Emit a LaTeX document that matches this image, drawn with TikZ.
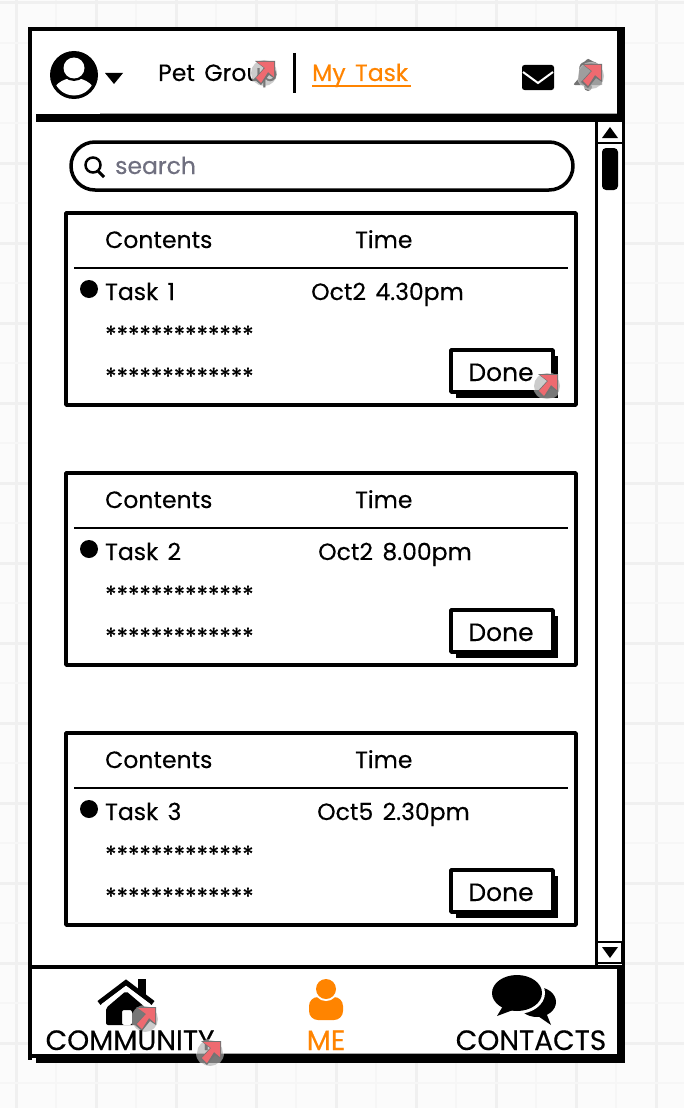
\documentclass[tikz,border=0pt]{standalone}
\usepackage{fontspec}
\setmainfont{Poppins}[FakeBold=0.25,WordSpace=1.5]
\definecolor{pageback}{HTML}{FBFBFB}
\definecolor{gridthin}{HTML}{F6F6F6}
\definecolor{gridthick}{HTML}{F0F0F0}
\definecolor{accent}{HTML}{FF8400}
\definecolor{hint}{HTML}{6F6F7F}
\definecolor{linkred}{HTML}{EE6A70}
\tikzset{
  label/.style={anchor=base west,inner sep=0pt,font=\fontsize{23.5}{23.5}\selectfont},
  donelabel/.style={anchor=base,inner sep=0pt,font=\fontsize{25}{25}\selectfont},
  navlabel/.style={anchor=base,inner sep=0pt,font=\fontsize{28}{28}\selectfont},
  sketch/.style={line width=3.5pt,line join=round},
  fringe/.style={line width=1pt,black!35},
  linkmark/.pic={
    \fill [white,opacity=.45] (0,1) circle [radius=14pt];
    \fill [black!50,opacity=.4] (0,1) circle [radius=13pt];
    \fill [black!55] (-9,-11) -- (11,-11) -- (11,7) -- (5,3) -- (-3,13) -- (-10,7) -- (0,-4) -- cycle;
    \fill [linkred] (-7,-10) -- (10,-10) -- (10,5) -- (4,0) -- (-3,11) -- (-8,6) -- (1,-4) -- cycle;
  }
}
\begin{document}
\begin{tikzpicture}[x=1pt,y=-1pt]
  \useasboundingbox (0,0) rectangle (684,1108);
  \fill [pageback] (0,0) rectangle (684,1108);
  % grid behind the window
  \foreach \gx in {56,136,...,696} \draw [gridthin,line width=1.5pt] (\gx,0) -- (\gx,1108);
  \foreach \gx in {16,96,...,696} \draw [gridthick,line width=3pt] (\gx,0) -- (\gx,1108);
  \foreach \gy in {43,123,...,1108} \draw [gridthin,line width=1.5pt] (0,\gy) -- (684,\gy);
  \foreach \gy in {3,83,...,1108} \draw [gridthick,line width=3pt] (0,\gy) -- (684,\gy);

  % window
  \fill [white] (28,27) rectangle (625,1060);
  \fill (28,27) rectangle (625,31);
  \fill (28,27) rectangle (32,1060);
  \fill (617,27) rectangle (625,122);
  \fill (36,114) rectangle (625,122);
  \fill (622,122) rectangle (625,965);
  \fill (31,965) rectangle (625,969);
  \fill (617,965) rectangle (625,1062);
  \fill (28,1054) rectangle (36,1058);
  \fill (36,1054) rectangle (625,1063);
  \draw [fringe] (100,113.5) -- (617,113.5);
  \draw [fringe] (130,1053.5) -- (500,1053.5);

  % header
  \fill (74,75) circle [radius=24pt];
  \begin{scope}
    \clip (74,75) circle [radius=20.5pt];
    \fill [white] (74,96) ellipse [x radius=22pt,y radius=18pt];
    \fill (74,68) circle [radius=13pt];
  \end{scope}
  \fill [white] (74,68) circle [radius=10.5pt];
  \fill (105,73) -- (123,73) -- (114,84) -- cycle;
  \node [label] (petgroup) at (158,81) {Pet Group};
  \pic at (264,72) {linkmark};
  \draw [line width=3pt] (294,53) -- (294,93);
  \node [label,text=accent] (mytask) at (312,81) {My Task};
  \draw [accent,line width=2pt] (312,85.5) -- (411,85.5);
  \fill [rounded corners=2.5pt] (522,65) rectangle (554,90);
  \draw [white,line width=2pt] (523,72) -- (538,83) -- (553,72);
  \fill [black!55,rounded corners=2pt] (573,85) -- (579,78) -- (579,69) .. controls (580,63) and (584,62) .. (586,61) -- (588,58) -- (591,61) .. controls (596,62) and (600,65) .. (600,69) -- (600,78) -- (603,85) -- cycle;
  \fill [black!55] (588,87) circle [radius=4pt];
  \pic at (591,75) {linkmark};

  % search box
  \draw [sketch,rounded corners=24pt] (71,142) rectangle (573,190);
  \draw [line width=2.5pt] (93,165) circle [radius=7.5pt];
  \draw [line width=3pt] (98,171) -- (104,177);
  \node [label,text=hint] (search) at (115,174) {search};

  % task cards
  \foreach \cardy/\num/\when/\whenx in {212/1/Oct2 4.30pm/311,472/2/Oct2 8.00pm/318,732/3/Oct5 2.30pm/317} {
    \begin{scope}[shift={(0,\cardy)}]
      \draw [sketch] (66,1) rectangle (576,193);
      \node [label] (contents\num) at (105,36) {Contents};
      \node [label] (time\num) at (355,36) {Time};
      \draw [line width=2pt] (74,55.5) -- (568,55.5);
      \fill (89,77) circle [radius=9pt];
      \node [label] (task\num) at (105,88) {Task \num};
      \node [label] (when\num) at (\whenx,88) {\when};
      \node [label] (stara\num) at (105,131) {*************};
      \node [label] (starb\num) at (105,173) {*************};
      \fill (456,144) rectangle (558,186);
      \draw [sketch,fill=white] (451,138) rectangle (553,180);
      \node [donelabel] (done\num) at (501,169) {Done};
    \end{scope}
  }
  \pic at (547,385) {linkmark};

  % scrollbar
  \draw [line width=3pt] (596.5,122) -- (596.5,965);
  \draw [line width=2.5pt] (597,143) -- (622,143);
  \draw [line width=2.5pt,fill=white] (597,942) rectangle (622,963);
  \fill (602,138) -- (618,138) -- (610,127) -- cycle;
  \fill (602,947) -- (618,947) -- (610,958) -- cycle;
  \fill [rounded corners=4pt] (602,148) rectangle (618,190);

  % bottom navigation
  \draw [line width=5pt] (99,1003) -- (126,982.5) -- (153,1003);
  \fill (138,979) rectangle (146,995);
  \draw [white,line width=2pt] (102,1005) -- (126,987) -- (150,1005);
  \fill [rounded corners=2pt,even odd rule] (106,1025) -- (106,1008) -- (126,991) -- (146,1008) -- (146,1025) -- cycle (122,1010) rectangle (132,1025);
  \pic at (145,1018) {linkmark};
  \node [navlabel] (community) at (130,1050) {COMMUNITY};
  \pic at (210,1052) {linkmark};

  \fill [accent,rounded corners=9pt] (309,1020) rectangle (343,997);
  \fill [white] (326,989) circle [radius=12pt];
  \fill [accent] (326,989) circle [radius=10pt];
  \node [navlabel,text=accent] (me) at (326,1050) {ME};

  \fill (537,1002) ellipse [x radius=19pt,y radius=15pt];
  \fill (535,1014) -- (551,1025) -- (545,1010) -- cycle;
  \fill [white] (517,993) ellipse [x radius=28pt,y radius=21pt];
  \fill (517,993) ellipse [x radius=25pt,y radius=18pt];
  \fill (503,1006) -- (497,1016) -- (513,1010) -- cycle;
  \node [navlabel] (contacts) at (531,1050) {CONTACTS};
\end{tikzpicture}
\end{document}
